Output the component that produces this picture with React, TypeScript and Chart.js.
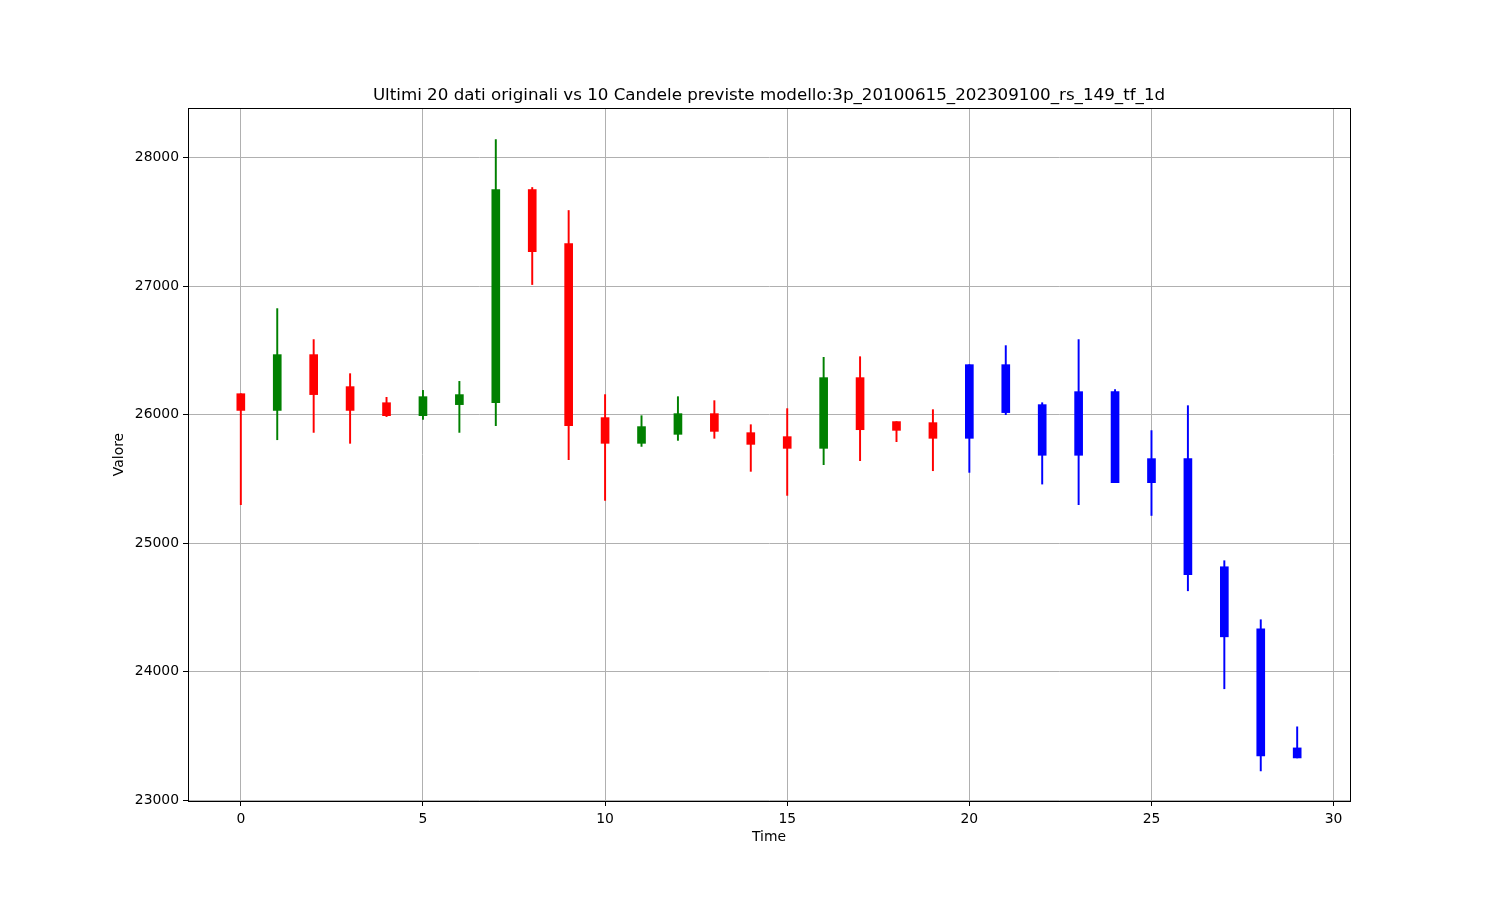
import React, { useEffect, useRef } from "react";
import { Chart, registerables } from "chart.js";

Chart.register(...registerables);

const titleText =
  "Ultimi 20 dati originali vs 10 Candele previste modello:3p_20100615_202309100_rs_149_tf_1d";

const times = [
  0, 1, 2, 3, 4, 5, 6, 7, 8, 9, 10, 11, 12, 13, 14, 15, 16, 17, 18, 19, 20, 21, 22, 23, 24, 25, 26,
  27, 28, 29,
];
const openValues = [
  26163, 26033, 26467, 26218, 26093, 25992, 26078, 26093, 27751, 27331, 25977, 25777, 25847, 26008,
  25860, 25829, 25738, 26288, 25946, 25938, 25816, 26389, 26078, 25684, 26179, 25658, 25658, 24817,
  24334, 23408,
];
const closeValues = [
  26033, 26467, 26156, 26033, 25992, 26140, 26156, 27751, 27268, 25914, 25777, 25907, 26008, 25870,
  25769, 25738, 26288, 25883, 25878, 25816, 26389, 26016, 25684, 26179, 25471, 25471, 24755, 24272,
  23346, 23330,
];
const highValues = [
  26163, 26825, 26584, 26319, 26135, 26189, 26259, 28140, 27767, 27588, 26156, 25992, 26140, 26109,
  25922, 26047, 26446, 26451, 25946, 26039, 26389, 26537, 26093, 26584, 26195, 25876, 26070, 24864,
  24405, 23572,
];
const lowValues = [
  25300, 25805, 25862, 25777, 25985, 25963, 25862, 25914, 27012, 25650, 25333, 25753, 25800, 25816,
  25559, 25372, 25611, 25642, 25790, 25564, 25551, 26000, 25460, 25300, 25471, 25216, 24630, 23868,
  23229, 23330,
];
const originalCount = 20;
const xTicks = [0, 5, 10, 15, 20, 25, 30];
const yTicks = [23000, 24000, 25000, 26000, 27000, 28000];

const colorFor = (i: number) =>
  i >= originalCount ? "#0000ff" : closeValues[i] >= openValues[i] ? "#008000" : "#ff0000";

const frame = {
  id: "frame",
  afterDraw(chart: any) {
    const { ctx, chartArea } = chart;
    ctx.save();
    ctx.strokeStyle = "#000";
    ctx.lineWidth = 1;
    ctx.strokeRect(
      Math.round(chartArea.left) + 0.5,
      Math.round(chartArea.top) + 0.5,
      Math.round(chartArea.right - chartArea.left),
      Math.round(chartArea.bottom - chartArea.top)
    );
    ctx.restore();
  },
};

export default function App() {
  const ref = useRef<HTMLCanvasElement | null>(null);

  useEffect(() => {
    if (!ref.current) return;
    const font = { family: "'DejaVu Sans', sans-serif", size: 13.9 };
    const chart = new Chart(ref.current, {
      type: "bar",
      data: {
        datasets: [
          {
            label: "body",
            order: 0,
            data: times.map((t, i) => ({ x: t, y: [openValues[i], closeValues[i]] })) as any,
            backgroundColor: times.map((_, i) => colorFor(i)),
            borderWidth: 0,
            barThickness: 8,
            grouped: false,
          } as any,
          {
            label: "wick",
            order: 1,
            data: times.map((t, i) => ({ x: t, y: [lowValues[i], highValues[i]] })) as any,
            backgroundColor: times.map((_, i) => colorFor(i)),
            borderWidth: 0,
            barThickness: 1.3,
            grouped: false,
          } as any,
        ],
      },
      options: {
        responsive: false,
        animation: false,
        devicePixelRatio: 1,
        layout: { padding: { left: 0, right: 150, top: 0, bottom: 0 } },
        plugins: {
          legend: { display: false },
          tooltip: { enabled: false },
          title: {
            display: true,
            text: titleText,
            color: "#000",
            fullSize: false,
            font: { family: "'DejaVu Sans', sans-serif", size: 16.7, weight: "normal" },
            padding: { top: 86, bottom: 2 },
          },
        },
        scales: {
          x: {
            type: "linear",
            min: -1.45,
            max: 30.45,
            bounds: "data",
            offset: false,
            afterBuildTicks: (s: any) => {
              s.ticks = xTicks.map((v) => ({ value: v }));
            },
            afterFit: (s: any) => {
              s.height = 99;
            },
            ticks: {
              color: "#000",
              font,
              padding: 5,
              maxRotation: 0,
              autoSkip: false,
              callback: (v: any) => String(v),
            },
            grid: {
              offset: false,
              color: "#b0b0b0",
              lineWidth: 1,
              tickColor: "#000",
              tickLength: 5,
            },
            border: { color: "#000", width: 1 },
            title: {
              display: true,
              text: "Time",
              color: "#000",
              font,
              padding: { top: 0, bottom: 54 },
            },
          },
          y: {
            type: "linear",
            min: 22995,
            max: 28385,
            bounds: "data",
            afterBuildTicks: (s: any) => {
              s.ticks = yTicks.map((v) => ({ value: v }));
            },
            afterFit: (s: any) => {
              s.width = 188;
            },
            ticks: {
              color: "#000",
              font,
              padding: 4,
              autoSkip: false,
              callback: (v: any) => String(v),
            },
            grid: {
              color: "#b0b0b0",
              lineWidth: 1,
              tickColor: "#000",
              tickLength: 5,
            },
            border: { color: "#000", width: 1 },
            title: {
              display: true,
              text: "Valore",
              color: "#000",
              font,
              padding: { top: 111, bottom: 0 },
            },
          },
        },
      } as any,
      plugins: [frame],
    });
    return () => chart.destroy();
  }, []);

  return (
    <div style={{ position: "absolute", left: 0, top: 0, width: 1500, height: 900, background: "#fff" }}>
      <canvas ref={ref} width={1500} height={900} style={{ width: 1500, height: 900 }} />
    </div>
  );
}
